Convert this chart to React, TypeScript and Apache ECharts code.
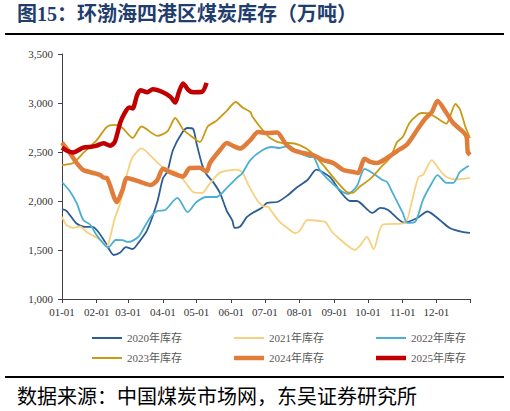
import React, { useEffect, useRef } from "react";
import * as echarts from "echarts";

const monthLengths = [31, 28, 31, 30, 31, 30, 31, 31, 30, 31, 30, 31];
const monthLabels = ["01-01", "02-01", "03-01", "04-01", "05-01", "06-01", "07-01", "08-01", "09-01", "10-01", "11-01", "12-01"];
const yTicks = [1000, 1500, 2000, 2500, 3000, 3500];

const seriesNames = ["2020年库存", "2021年库存", "2022年库存", "2023年库存", "2024年库存", "2025年库存"];
const seriesColors = ["#2D5D93", "#F7D17E", "#4BAFD2", "#C89B16", "#E07D3A", "#C00000"];
const seriesWidths = [1.8, 1.8, 1.8, 1.8, 4.5, 4.5];

// [day of year (0 = Jan 1), value]
const inv2020 = [
  [0, 1918], [4, 1900], [13, 1770], [21, 1735], [27, 1735], [31, 1704], [38, 1590], [43, 1490], [46, 1449],
  [52, 1475], [57, 1530], [63, 1510], [68, 1571], [76, 1704], [85, 1990], [90, 2230], [94, 2300], [99, 2520],
  [107, 2694], [112, 2745], [117, 2735], [120, 2590], [125, 2370], [129, 2270], [135, 2190], [141, 2080],
  [147, 1900], [152, 1800], [154, 1725], [159, 1740], [165, 1837], [170, 1878], [178, 1929], [183, 1980],
  [192, 1990], [201, 2055], [210, 2143], [219, 2214], [227, 2320], [239, 2245], [245, 2150], [248, 2100],
  [257, 2000], [263, 2000], [277, 1878], [284, 1930], [291, 1908], [305, 1780], [317, 1827], [326, 1893],
  [337, 1806], [346, 1724], [357, 1684], [364, 1675],
];
const inv2021 = [
  [0, 1837], [4, 1755], [10, 1725], [16, 1740], [22, 1684], [31, 1625], [37, 1575], [40, 1535], [43, 1633],
  [47, 1820], [52, 1980], [56, 2184], [59, 2316], [63, 2449], [71, 2536], [81, 2440], [90, 2345], [103, 2286],
  [112, 2160], [117, 2092], [125, 2082], [132, 2180], [141, 2290], [156, 2320], [161, 2290], [166, 2170],
  [174, 2010], [179, 1950], [184, 1939], [188, 1878], [194, 1790], [201, 1725], [208, 1673], [212, 1695],
  [219, 1806], [230, 1796], [235, 1786], [241, 1684], [248, 1610], [254, 1551], [261, 1500], [266, 1545],
  [272, 1633], [278, 1510], [286, 1757], [306, 1776], [312, 1990], [318, 2245], [322, 2265], [330, 2418],
  [337, 2316], [343, 2245], [352, 2220], [364, 2235],
];
const inv2022 = [
  [0, 2194], [7, 2100], [13, 1980], [19, 1806], [25, 1760], [31, 1650], [37, 1565], [41, 1525], [48, 1602],
  [54, 1600], [59, 1582], [68, 1633], [72, 1704], [79, 1837], [85, 1898], [92, 1908], [103, 2031], [112, 1888],
  [120, 1990], [129, 2041], [138, 2041], [147, 2133], [156, 2235], [161, 2286], [168, 2418], [179, 2520],
  [187, 2551], [194, 2541], [202, 2561], [212, 2490], [221, 2449], [224, 2449], [230, 2316], [236, 2235],
  [248, 2112], [255, 2072], [263, 2150], [270, 2327], [277, 2286], [286, 2214], [290, 2194], [295, 2082],
  [304, 1878], [308, 1776], [315, 1786], [322, 2010], [330, 2184], [335, 2265], [343, 2184], [349, 2184],
  [355, 2296], [363, 2360],
];
const inv2023 = [
  [0, 2367], [10, 2388], [19, 2490], [31, 2622], [40, 2755], [47, 2776], [54, 2745], [63, 2643], [71, 2760],
  [85, 2665], [94, 2710], [101, 2847], [108, 2730], [114, 2673], [123, 2602], [130, 2760], [138, 2820],
  [147, 2920], [155, 3010], [161, 2955], [168, 2908], [170, 2860], [179, 2724], [186, 2640], [197, 2592],
  [203, 2592], [212, 2571], [221, 2510], [233, 2367], [245, 2200], [254, 2092], [259, 2082], [266, 2150],
  [275, 2225], [284, 2337], [293, 2449], [299, 2602], [304, 2653], [310, 2796], [317, 2878], [321, 2898],
  [328, 2890], [337, 2827], [343, 2790], [346, 2857], [351, 2990], [355, 2935], [360, 2755], [364, 2643],
];
const inv2024 = [
  [0, 2595], [7, 2490], [13, 2390], [19, 2316], [28, 2286], [34, 2265], [37, 2240], [40, 2235], [49, 1990],
  [54, 2112], [58, 2235], [70, 2194], [79, 2163], [85, 2214], [90, 2330], [96, 2296], [103, 2265], [108, 2250],
  [114, 2337], [123, 2340], [129, 2300], [132, 2388], [141, 2520], [147, 2592], [153, 2560], [159, 2535],
  [168, 2622], [175, 2704], [183, 2694], [192, 2700], [199, 2592], [206, 2520], [215, 2490], [224, 2469],
  [233, 2418], [242, 2388], [251, 2316], [260, 2296], [264, 2286], [270, 2430], [275, 2400], [281, 2388],
  [290, 2439], [299, 2510], [308, 2580], [318, 2745], [324, 2840], [330, 2908], [335, 3020], [343, 2898],
  [349, 2796], [358, 2704], [361, 2653], [362, 2500], [364, 2469],
];
const inv2025 = [
  [0, 2545], [5, 2510], [10, 2495], [19, 2545], [27, 2555], [31, 2565], [37, 2590], [43, 2565], [47, 2600],
  [52, 2800], [56, 2900], [60, 2955], [63, 2945], [67, 3080], [70, 3130], [76, 3110], [81, 3140], [90, 3110],
  [97, 3060], [101, 3005], [104, 3100], [108, 3200], [113, 3130], [117, 3110], [125, 3115], [129, 3205],
];
const seriesData = [inv2020, inv2021, inv2022, inv2023, inv2024, inv2025];

const pad = (n: number) => (n < 10 ? "0" + n : "" + n);
const categories: string[] = [];
const monthStarts: number[] = [];
monthLengths.forEach((len, m) => {
  monthStarts.push(categories.length);
  for (let d = 1; d <= len; d++) categories.push(pad(m + 1) + "-" + pad(d));
});
const lastIndex = categories.length - 1;

const SERIF = "'Liberation Serif', 'Times New Roman', 'Noto Sans CJK SC', serif";
const AXIS_COLOR = "#404040";
const COL_STEP = 142;

export default function App() {
  const ref = useRef<HTMLDivElement>(null);
  useEffect(() => {
    if (!ref.current) return;
    const chart = echarts.init(ref.current, undefined, { renderer: "svg" });
    const makeLegend = (left: number, rowCenter: number, names: string[], thickness: number) => ({
      left,
      top: rowCenter - 7,
      orient: "horizontal" as const,
      icon: "rect",
      itemWidth: 30,
      itemHeight: thickness,
      itemGap: COL_STEP - 30 - 5 - 60,
      data: names,
      textStyle: { color: "#595959", fontSize: 11, fontFamily: SERIF, width: 60, lineHeight: 14 },
    });
    chart.setOption({
      animation: false,
      backgroundColor: "#ffffff",
      grid: { left: 62, right: 40, top: 54, bottom: 112, containLabel: false },
      legend: [
        makeLegend(87, 333, seriesNames.slice(0, 3), 2),
        makeLegend(87, 353, seriesNames.slice(3, 4), 2),
        makeLegend(87 + COL_STEP, 353, seriesNames.slice(4, 6), 4.5),
      ],
      xAxis: {
        type: "category",
        data: categories,
        boundaryGap: false,
        axisLine: { lineStyle: { color: AXIS_COLOR, width: 1 } },
        axisTick: {
          show: true,
          length: 4,
          lineStyle: { color: AXIS_COLOR },
          interval: (i: number) => monthStarts.includes(i) || i === lastIndex,
        },
        axisLabel: {
          interval: (i: number) => monthStarts.includes(i),
          formatter: (v: string) => (monthLabels.includes(v) ? v : ""),
          color: "#333333",
          fontSize: 11,
          fontFamily: SERIF,
          margin: 7,
        },
        splitLine: { show: false },
      },
      yAxis: {
        type: "value",
        min: yTicks[0],
        max: yTicks[yTicks.length - 1],
        interval: 500,
        axisLine: { show: true, lineStyle: { color: AXIS_COLOR, width: 1 } },
        axisTick: { show: true, length: 4, lineStyle: { color: AXIS_COLOR } },
        axisLabel: {
          formatter: (v: number) => v.toLocaleString("en-US"),
          color: "#333333",
          fontSize: 11,
          fontFamily: SERIF,
          margin: 9,
        },
        splitLine: { show: false },
      },
      series: seriesNames.map((name, i) => ({
        name,
        type: "line",
        data: seriesData[i],
        symbol: "none",
        showSymbol: false,
        smooth: 0.25,
        lineStyle: { color: seriesColors[i], width: seriesWidths[i] },
        itemStyle: { color: seriesColors[i] },
        z: 2 + i,
      })),
      graphic: [
        {
          type: "text",
          left: 17,
          top: 4,
          style: {
            text: "图15：环渤海四港区煤炭库存（万吨）",
            fill: "#1F3E6E",
            font: "bold 20px 'Liberation Serif', 'Noto Sans CJK SC', serif",
          },
        },
        {
          type: "line",
          shape: { x1: 5, y1: 34, x2: 504, y2: 34 },
          style: { stroke: "#000000", lineWidth: 2 },
        },
        {
          type: "line",
          shape: { x1: 5, y1: 377, x2: 504, y2: 377 },
          style: { stroke: "#000000", lineWidth: 2 },
        },
        {
          type: "text",
          left: 17,
          top: 385,
          style: {
            text: "数据来源：中国煤炭市场网，东吴证券研究所",
            fill: "#000000",
            font: "20px 'Noto Sans CJK SC', sans-serif",
          },
        },
      ],
    });
    return () => chart.dispose();
  }, []);
  return (
    <div
      ref={ref}
      style={{ position: "fixed", left: 0, top: 0, width: 510, height: 411, background: "#fff" }}
    />
  );
}
